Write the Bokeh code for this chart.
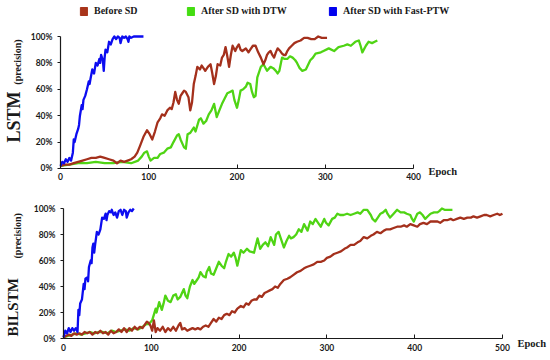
import math
from bokeh.plotting import figure
from bokeh.layouts import column
from bokeh.models import (Range1d, FixedTicker, PrintfTickFormatter, Label,
                          Legend, LegendItem, LinearAxis)
from bokeh.embed import file_html
from bokeh.resources import INLINE

# ---------------- data (epoch, precision %) ----------------
series_names = ["Before SD", "After SD with DTW", "After SD with Fast-PTW"]
series_colors = ["#a4301c", "#4fd414", "#0c0cf0"]
legend_colors = ["#a8341a", "#44dd11", "#0000ee"]

x_ticks_lstm = [0, 100, 200, 300, 400]
x_ticks_bilstm = [0, 100, 200, 300, 400, 500]
y_ticks = [0, 20, 40, 60, 80, 100]

lstm_before = [(0, 2), (5, 3), (10, 3), (15, 4), (20, 5), (25, 6), (30, 7), (35, 8), (40, 8),
               (45, 9), (50, 8), (55, 7), (60, 6), (64, 4), (68, 6), (72, 5), (76, 6), (80, 7),
               (84, 9), (87, 12), (90, 17), (94, 24), (98, 29), (101, 26), (104, 22), (107, 28),
               (110, 35), (113, 38), (115, 41), (118, 40), (121, 44), (124, 46), (126, 45),
               (128, 50), (130, 58), (132, 52), (134, 49), (136, 55), (138, 57), (140, 59),
               (142, 58), (145, 54), (147, 44), (149, 50), (151, 64), (153, 70), (155, 77),
               (158, 75), (160, 78), (162, 76), (164, 74), (167, 77), (170, 79), (172, 72),
               (174, 64), (176, 70), (178, 79), (181, 78), (183, 84), (185, 86), (187, 92),
               (189, 85), (191, 77), (193, 86), (195, 93), (198, 89), (200, 92), (202, 94),
               (204, 90), (206, 89), (208, 90), (210, 91), (213, 88), (215, 90), (218, 93),
               (221, 93), (224, 88), (227, 84), (230, 79), (232, 82), (234, 86), (236, 88),
               (238, 89), (240, 86), (242, 84), (244, 88), (246, 91), (249, 89), (251, 87),
               (253, 86), (255, 86), (257, 89), (259, 91), (262, 93), (265, 95), (268, 96),
               (272, 97), (276, 99), (280, 99), (284, 98), (288, 98), (292, 100), (296, 99),
               (300, 99), (302, 99)]

lstm_dtw = [(0, 2), (10, 3), (20, 4), (30, 4), (40, 5), (50, 4), (60, 4), (70, 5), (80, 4),
            (88, 6), (92, 9), (95, 12), (98, 13), (100, 9), (102, 6), (106, 8), (110, 8),
            (113, 11), (117, 12), (121, 15), (125, 16), (128, 20), (132, 25), (134, 26),
            (136, 22), (140, 16), (142, 15), (144, 26), (147, 27), (151, 31), (153, 28),
            (157, 37), (159, 38), (162, 34), (165, 36), (168, 41), (171, 44), (174, 49),
            (177, 39), (180, 44), (183, 49), (186, 53), (189, 57), (192, 58), (195, 59),
            (197, 52), (200, 46), (202, 52), (204, 59), (207, 60), (210, 62), (212, 65),
            (215, 64), (217, 58), (219, 54), (221, 55), (223, 69), (227, 77), (230, 79),
            (234, 74), (238, 77), (241, 76), (244, 74), (246, 72), (248, 74), (251, 84),
            (254, 83), (257, 83), (260, 85), (263, 84), (266, 82), (268, 80), (271, 76),
            (274, 74), (278, 75), (283, 82), (286, 84), (289, 87), (295, 88), (298, 89),
            (304, 91), (310, 89), (315, 92), (321, 93), (325, 94), (329, 93), (334, 96),
            (338, 97), (340, 93), (342, 88), (346, 93), (349, 96), (353, 95), (356, 96),
            (359, 97)]

lstm_fast = [(0, 2), (2, 5), (4, 4), (6, 7), (8, 5), (10, 8), (12, 6), (14, 12), (15, 22),
             (16, 20), (18, 26), (20, 30), (21, 33), (22, 40), (24, 48), (25, 45), (26, 52),
             (28, 55), (30, 60), (32, 66), (33, 64), (34, 68), (36, 75), (38, 72), (40, 80),
             (42, 78), (44, 83), (45, 80), (46, 86), (48, 82), (49, 74), (50, 84), (51, 90),
             (53, 88), (55, 96), (57, 94), (59, 98), (61, 100), (63, 98), (65, 100), (67, 99),
             (68, 95), (70, 100), (72, 99), (74, 100), (76, 98), (77, 96), (78, 100), (80, 99),
             (83, 100), (86, 100), (90, 100), (94, 100)]

bilstm_before = [(0, 1), (3, 2), (6, 3), (9, 2), (12, 4), (15, 3), (18, 4), (21, 3), (24, 5),
                 (27, 4), (30, 5), (33, 3), (36, 5), (39, 4), (42, 6), (45, 4), (48, 5), (51, 3),
                 (54, 6), (57, 4), (60, 5), (63, 7), (66, 5), (69, 8), (72, 5), (75, 8), (78, 6),
                 (81, 9), (84, 7), (87, 9), (90, 8), (93, 11), (95, 13), (97, 12), (99, 10),
                 (101, 6), (103, 14), (105, 5), (107, 8), (110, 6), (113, 9), (116, 5), (119, 8),
                 (122, 6), (125, 9), (128, 6), (131, 10), (133, 12), (135, 7), (138, 8),
                 (141, 6), (144, 7), (147, 8), (150, 7), (153, 8), (156, 7), (159, 9), (162, 10),
                 (165, 9), (168, 12), (171, 15), (174, 13), (177, 16), (180, 15), (183, 18),
                 (186, 19), (189, 18), (192, 21), (195, 20), (198, 23), (202, 25), (205, 24),
                 (208, 27), (211, 26), (214, 29), (217, 30), (220, 30), (223, 33), (226, 32),
                 (229, 35), (232, 36), (235, 37), (238, 38), (241, 40), (244, 39), (247, 42),
                 (251, 45), (255, 46), (258, 47), (262, 49), (266, 51), (270, 52), (274, 54),
                 (277, 55), (281, 56), (285, 57), (289, 59), (293, 59), (297, 60), (300, 62),
                 (304, 63), (308, 65), (312, 66), (316, 67), (320, 69), (323, 70), (327, 72),
                 (331, 72), (335, 74), (338, 75), (342, 78), (346, 77), (350, 79), (353, 80),
                 (357, 82), (361, 81), (365, 83), (368, 84), (372, 84), (376, 85), (380, 86),
                 (384, 86), (388, 87), (391, 86), (395, 88), (399, 87), (403, 86), (406, 88),
                 (410, 89), (414, 88), (418, 90), (422, 90), (426, 90), (429, 89), (433, 91),
                 (437, 91), (441, 92), (444, 91), (448, 92), (452, 93), (456, 92), (460, 93),
                 (464, 93), (467, 94), (471, 93), (475, 94), (479, 95), (482, 95), (486, 94),
                 (490, 95), (494, 96), (497, 95), (500, 96)]

bilstm_dtw = [(0, 1), (5, 2), (10, 3), (15, 4), (20, 3), (25, 4), (30, 5), (35, 4), (40, 5),
              (45, 5), (50, 4), (55, 6), (60, 5), (65, 6), (70, 7), (75, 6), (80, 8), (85, 7),
              (90, 9), (94, 11), (97, 11), (101, 14), (105, 23), (106, 20), (109, 28),
              (112, 22), (114, 27), (116, 33), (119, 29), (122, 28), (125, 33), (128, 34),
              (130, 30), (133, 32), (135, 35), (137, 38), (139, 33), (141, 31), (144, 40),
              (147, 45), (149, 42), (152, 45), (154, 47), (156, 51), (159, 48), (162, 47),
              (163, 51), (166, 55), (168, 50), (171, 49), (174, 54), (177, 59), (180, 56),
              (183, 54), (185, 59), (188, 65), (191, 63), (194, 66), (196, 62), (198, 56),
              (202, 68), (205, 66), (209, 69), (212, 67), (217, 66), (221, 77), (224, 69),
              (227, 72), (230, 74), (233, 71), (236, 78), (240, 72), (242, 80), (245, 82),
              (248, 76), (251, 70), (254, 75), (257, 79), (259, 77), (262, 78), (265, 80),
              (268, 84), (271, 82), (274, 88), (278, 83), (281, 90), (284, 88), (287, 92),
              (290, 89), (293, 86), (297, 92), (299, 89), (302, 87), (306, 92), (309, 93),
              (312, 96), (315, 95), (319, 95), (323, 96), (327, 95), (331, 96), (335, 97),
              (338, 96), (342, 99), (346, 99), (350, 95), (352, 92), (355, 90), (358, 93),
              (361, 96), (364, 97), (367, 99), (369, 96), (372, 93), (376, 96), (380, 99),
              (384, 97), (388, 97), (391, 96), (395, 95), (397, 92), (399, 90), (401, 93),
              (403, 96), (406, 97), (409, 95), (412, 92), (415, 94), (418, 96), (422, 97),
              (426, 97), (428, 98), (431, 100), (434, 99), (437, 99), (440, 99), (443, 99)]

bilstm_fast = [(0, 1), (2, 6), (4, 4), (6, 8), (8, 5), (10, 8), (12, 6), (14, 8), (16, 5),
               (17, 22), (18, 18), (19, 27), (21, 30), (23, 42), (24, 38), (25, 46), (27, 47),
               (28, 44), (29, 55), (31, 60), (32, 58), (33, 70), (34, 73), (35, 66), (36, 72),
               (38, 82), (40, 80), (42, 84), (44, 93), (46, 92), (48, 96), (49, 91), (50, 95),
               (52, 98), (54, 97), (55, 99), (57, 95), (59, 97), (61, 93), (63, 98), (65, 99),
               (67, 95), (69, 99), (71, 98), (72, 93), (74, 97), (76, 99), (78, 98), (80, 100)]


def split(pairs):
    return [a for a, _ in pairs], [b for _, b in pairs]


W = 550
INK = "#1a1a1a"


def make_panel(height, xr, yr, x_max, x_ticks, series, title_big, big_size,
               big_xy, prec_xy, epoch_xy):
    p = figure(width=W, height=height, x_range=Range1d(*xr), y_range=Range1d(*yr),
               x_axis_type=None, y_axis_type=None,
               output_backend="svg", toolbar_location=None, min_border=0)
    p.outline_line_color = None
    p.background_fill_color = "white"
    for pairs, color in series:
        xs, ys = split(pairs)
        p.line(xs, ys, line_color=color, line_width=2.3, line_join="round")

    xaxis = LinearAxis(fixed_location=0, bounds=(0, x_max), ticker=FixedTicker(ticks=x_ticks))
    yaxis = LinearAxis(fixed_location=0, bounds=(0, 100), ticker=FixedTicker(ticks=y_ticks),
                       formatter=PrintfTickFormatter(format="%d%%"))
    for ax in (xaxis, yaxis):
        ax.axis_line_color = INK
        ax.axis_line_width = 1.2
        ax.major_tick_line_color = INK
        ax.minor_tick_line_color = None
        ax.major_label_text_font = "Lato"
        ax.major_label_text_font_style = "bold"
        ax.major_label_text_font_size = "8.5px"
        ax.major_label_text_color = INK
    xaxis.major_tick_in = 4
    xaxis.major_tick_out = 0
    xaxis.major_label_standoff = 5
    yaxis.major_tick_in = 0
    yaxis.major_tick_out = 3
    yaxis.major_label_standoff = 5
    p.add_layout(xaxis, "below")
    p.add_layout(yaxis, "left")

    p.add_layout(Label(x=big_xy[0], y=big_xy[1], text=title_big, angle=math.pi / 2,
                       text_font="Liberation Serif", text_font_style="bold",
                       text_font_size=big_size, text_align="center", text_baseline="middle",
                       text_color=INK))
    p.add_layout(Label(x=prec_xy[0], y=prec_xy[1], text="(precision)", angle=math.pi / 2,
                       text_font="Liberation Serif", text_font_style="bold",
                       text_font_size="10px", text_align="center", text_baseline="middle",
                       text_color=INK))
    p.add_layout(Label(x=epoch_xy[0], y=epoch_xy[1], text="Epoch",
                       text_font="Liberation Serif", text_font_style="bold",
                       text_font_size="10.5px", text_align="left", text_baseline="middle",
                       text_color=INK))
    return p


# legend strip (page y 0..30)
leg = figure(width=W, height=30, x_range=Range1d(0, 1), y_range=Range1d(0, 1),
             x_axis_type=None, y_axis_type=None, output_backend="svg",
             toolbar_location=None, min_border=0)
leg.outline_line_color = None
legend_x = [79, 186, 328]
for name, color, lx in zip(series_names, legend_colors, legend_x):
    # swatch renderer kept outside the visible range; only its legend entry shows
    r = leg.quad(left=[5], right=[6], top=[6], bottom=[5], fill_color=color, line_color=color)
    lg = Legend(items=[LegendItem(label=name, renderers=[r])], location=(lx, 14),
                orientation="horizontal", padding=0, margin=0, spacing=0,
                glyph_width=9, glyph_height=10, label_height=10, label_standoff=6,
                label_text_font="Liberation Serif", label_text_font_style="bold",
                label_text_font_size="10px", label_text_color=INK,
                border_line_color=None, background_fill_alpha=0)
    leg.add_layout(lg)

# panel 1: page y 30..190 (100% -> 36, 0% -> 168), x: 0 -> 60, 400 -> 413
p1 = make_panel(160, (-67.99, 555.2), (-16.67, 104.55), 400, x_ticks_lstm,
                [(lstm_dtw, series_colors[1]), (lstm_before, series_colors[0]),
                 (lstm_fast, series_colors[2])],
                "LSTM", "18px", (-52.3, 39), (-48.7, 80.7), (417, -2.5))
# panel 2: page y 190..360 (100% -> 208, 0% -> 338), x: 0 -> 63, 500 -> 502
p2 = make_panel(170, (-71.75, 554.7), (-16.92, 113.85), 500, x_ticks_bilstm,
                [(bilstm_dtw, series_colors[1]), (bilstm_before, series_colors[0]),
                 (bilstm_fast, series_colors[2])],
                "BILSTM", "15px", (-57.2, 24), (-52.4, 79), (517, -3.5))

layout = column(leg, p1, p2, spacing=0)
open("out.html", "w").write(file_html(layout, INLINE))
